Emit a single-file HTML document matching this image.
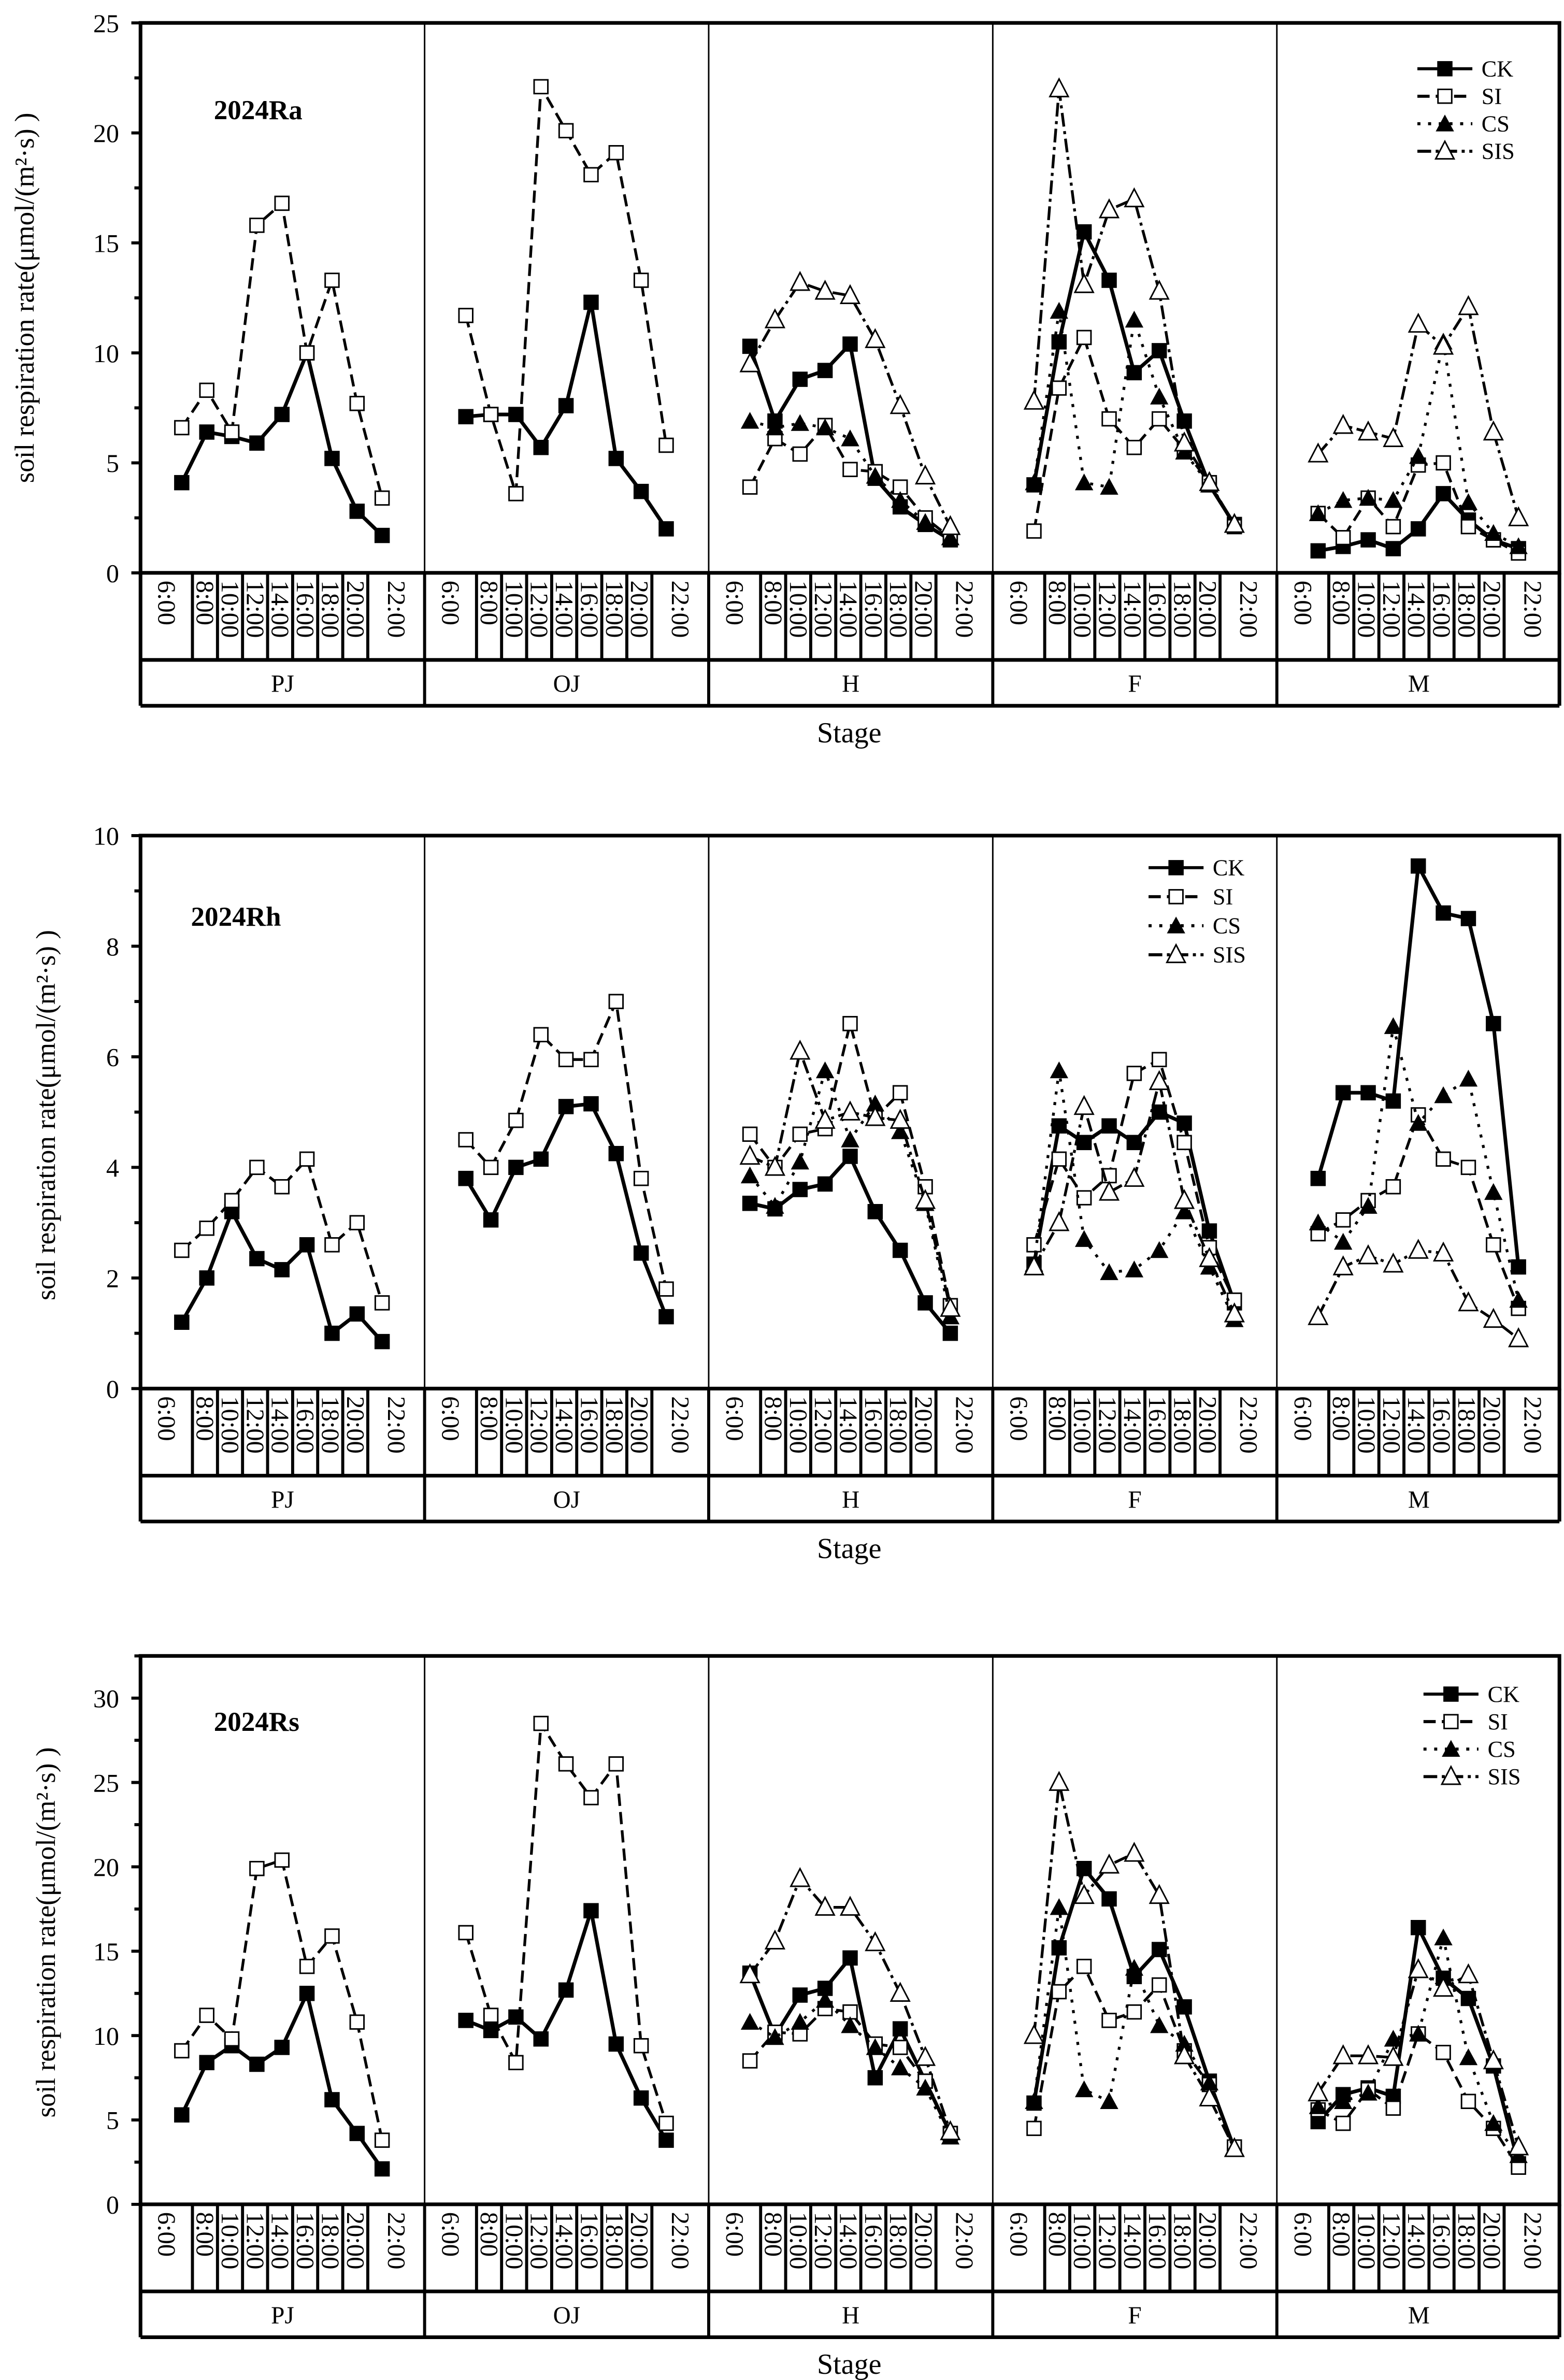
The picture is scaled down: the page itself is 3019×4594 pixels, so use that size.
<!DOCTYPE html>
<html><head><meta charset="utf-8"><style>
html,body{margin:0;padding:0;background:#fff;}
svg{display:block;}
text{font-family:"Liberation Serif","DejaVu Serif",serif;fill:#000;}
</style></head><body>
<svg id="chart" width="3019" height="4594" viewBox="0 0 1024 1558" preserveAspectRatio="none" xmlns="http://www.w3.org/2000/svg"></svg>
<script>
const stages = ["PJ","OJ","H","F","M"];
const times = ["6:00","8:00","10:00","12:00","14:00","16:00","18:00","20:00","22:00"];
const seriesNames = ["CK","SI","CS","SIS"];
// Ra
const raCK = [[4.1,6.4,6.2,5.9,7.2,10.0,5.2,2.8,1.7],[7.1,7.2,7.2,5.7,7.6,12.3,5.2,3.7,2.0],[10.3,6.9,8.8,9.2,10.4,4.3,3.0,2.2,1.5],[4.0,10.5,15.5,13.3,9.1,10.1,6.9,4.0,2.2],[1.0,1.2,1.5,1.1,2.0,3.6,2.4,1.5,1.1]];
const raSI = [[6.6,8.3,6.4,15.8,16.8,10.0,13.3,7.7,3.4],[11.7,7.2,3.6,22.1,20.1,18.1,19.1,13.3,5.8],[3.9,6.1,5.4,6.7,4.7,4.6,3.9,2.5,1.6],[1.9,8.4,10.7,7.0,5.7,7.0,5.6,4.1,2.1],[2.7,1.6,3.4,2.1,4.9,5.0,2.1,1.5,0.9]];
const raCS = [null,null,[6.9,6.6,6.8,6.6,6.1,4.4,3.3,2.3,1.6],[4.1,11.9,4.1,3.9,11.5,8.0,5.5,4.0,2.2],[2.7,3.3,3.4,3.3,5.3,10.5,3.2,1.8,1.2]];
const raSIS = [null,null,[9.5,11.5,13.2,12.8,12.6,10.6,7.6,4.4,2.1],[7.8,22.0,13.1,16.5,17.0,12.8,5.9,4.1,2.2],[5.4,6.7,6.4,6.1,11.3,10.3,12.1,6.4,2.5]];
// Rh
const rhCK = [[1.2,2.0,3.2,2.35,2.15,2.6,1.0,1.35,0.85],[3.8,3.05,4.0,4.15,5.1,5.15,4.25,2.45,1.3],[3.35,3.25,3.6,3.7,4.2,3.2,2.5,1.55,1.0],[2.25,4.75,4.45,4.75,4.45,5.0,4.8,2.85,1.55],[3.8,5.35,5.35,5.2,9.45,8.6,8.5,6.6,2.2]];
const rhSI = [[2.5,2.9,3.4,4.0,3.65,4.15,2.6,3.0,1.55],[4.5,4.0,4.85,6.4,5.95,5.95,7.0,3.8,1.8],[4.6,4.0,4.6,4.7,6.6,4.9,5.35,3.65,1.5],[2.6,4.15,3.45,3.85,5.7,5.95,4.45,2.55,1.6],[2.8,3.05,3.4,3.65,4.95,4.15,4.0,2.6,1.45]];
const rhCS = [null,null,[3.85,3.3,4.1,5.75,4.5,5.15,4.65,3.35,1.3],[2.25,5.75,2.7,2.1,2.15,2.5,3.2,2.2,1.25],[3.0,2.65,3.3,6.55,4.8,5.3,5.6,3.55,1.6]];
const rhSIS = [null,null,[4.2,4.0,6.1,4.85,5.0,4.9,4.85,3.4,1.45],[2.2,3.0,5.1,3.55,3.8,5.55,3.4,2.35,1.35],[1.3,2.2,2.4,2.25,2.5,2.45,1.55,1.25,0.9]];
// Rs
const rsCK = [[5.3,8.4,9.4,8.3,9.3,12.5,6.2,4.2,2.1],[10.9,10.3,11.1,9.8,12.7,17.4,9.5,6.3,3.8],[13.7,10.0,12.4,12.8,14.6,7.5,10.4,7.3,4.2],[6.0,15.2,19.9,18.1,13.5,15.1,11.7,7.3,3.3],[4.9,6.5,6.9,6.4,16.4,13.4,12.2,8.2,2.4]];
const rsSI = [[9.1,11.2,9.8,19.9,20.4,14.1,15.9,10.8,3.8],[16.1,11.2,8.4,28.5,26.1,24.1,26.1,9.4,4.8],[8.5,10.2,10.1,11.6,11.4,9.5,9.3,7.3,4.2],[4.5,12.6,14.1,10.9,11.4,13.0,9.1,7.1,3.4],[5.6,4.8,6.8,5.7,10.1,9.0,6.1,4.5,2.2]];
const rsCS = [null,null,[10.8,9.9,10.8,12.1,10.6,9.3,8.1,6.9,4.0],[6.1,17.6,6.8,6.1,14.0,10.6,9.5,7.2,3.3],[5.8,6.1,6.6,9.8,10.1,15.8,8.7,4.8,2.9]];
const rsSIS = [null,null,[13.6,15.6,19.3,17.6,17.6,15.5,12.5,8.7,4.3],[10.0,25.0,18.3,20.1,20.8,18.3,8.8,6.3,3.3],[6.6,8.8,8.8,8.7,13.9,12.8,13.6,8.5,3.4]];
const raTicks = [0,5,10,15,20,25];
const rhTicks = [0,2,4,6,8,10];
const rsTicks = [0,5,10,15,20,25,30];

const NS="http://www.w3.org/2000/svg";
const svg=document.getElementById('chart');
function el(tag,attrs,parent){const e=document.createElementNS(NS,tag);for(const k in attrs)e.setAttribute(k,attrs[k]);(parent||svg).appendChild(e);return e;}

const panels=[
 {id:'ra',title:'2024Ra',top:15,bottom:375,max:25,ticks:raTicks,minor:2.5,data:[raCK,raSI,raCS,raSIS],tx:140,ty:78,leg:{x:928,y:45,dy:18},yl:{x:22,y:195}},
 {id:'rh',title:'2024Rh',top:547,bottom:909,max:10,ticks:rhTicks,minor:1,data:[rhCK,rhSI,rhCS,rhSIS],tx:125,ty:606,leg:{x:752,y:568,dy:19},yl:{x:36,y:730}},
 {id:'rs',title:'2024Rs',top:1084,bottom:1443,max:32.5,ticks:rsTicks,minor:2.5,data:[rsCK,rsSI,rsCS,rsSIS],tx:140,ty:1133,leg:{x:932,y:1109,dy:18},yl:{x:36,y:1265}}
];
const L=92,R=1021,SW=186;
const dashes=["none","8,4","2,5","9,3,2,3"];
function xPos(s,i){return L+SW*s+27+16.4*i;}

function marker(g,k,x,y){
  let m;
  if(k===0) m=el('rect',{x:x-5,y:y-5,width:10,height:10,fill:'#000'},g);
  else if(k===1) m=el('rect',{x:x-4.5,y:y-4.5,width:9,height:9,fill:'#fff',stroke:'#000','stroke-width':1},g);
  else if(k===2) m=el('polygon',{points:`${x},${y-6} ${x+6},${y+5} ${x-6},${y+5}`,fill:'#000'},g);
  else m=el('polygon',{points:`${x},${y-6.5} ${x+6},${y+5} ${x-6},${y+5}`,fill:'#fff',stroke:'#000','stroke-width':1},g);
  return m;
}

panels.forEach((p,pi)=>{
  const g=el('g',{});
  
  
  const yS=v=>p.bottom-(v/p.max)*(p.bottom-p.top);
  for(let s=1;s<5;s++){const l=el('line',{x1:L+SW*s,x2:L+SW*s,y1:p.top,y2:p.bottom,stroke:'#000','stroke-width':1},g);}
  const fr=el('rect',{x:L,y:p.top,width:R-L,height:p.bottom-p.top,fill:'none',stroke:'#000','stroke-width':2.4},g);
  
  for(let v=0;v<=p.max+1e-6;v+=p.minor){const y=yS(v);el('line',{x1:L-(p.ticks.includes(v)?6:4),x2:L,y1:y,y2:y,stroke:'#000','stroke-width':2},g);}
  p.ticks.forEach(v=>{const t=el('text',{x:L-14,y:yS(v)+6,'text-anchor':'end','font-size':17},g);t.textContent=v;
    });
  const yl=el('text',{x:p.yl.x,y:p.yl.y,'text-anchor':'middle','font-size':18,transform:`rotate(-90 ${p.yl.x} ${p.yl.y})`},g);
  yl.textContent='soil respiration rate(μmol/(m²·s) )';
  
  const tt=el('text',{x:p.tx,y:p.ty,'font-size':18,'font-weight':'bold'},g);tt.textContent=p.title;
  
  const b1=p.bottom+57,b2=b1+30;
  el('line',{x1:L,x2:R,y1:b1,y2:b1,stroke:'#000','stroke-width':2.4},g);
  el('line',{x1:L,x2:R,y1:b2,y2:b2,stroke:'#000','stroke-width':2.4},g);
  el('line',{x1:L,x2:L,y1:p.bottom,y2:b2,stroke:'#000','stroke-width':2.4},g);
  el('line',{x1:R,x2:R,y1:p.bottom,y2:b2,stroke:'#000','stroke-width':2.4},g);
  for(let s=0;s<5;s++){
    const s0=L+SW*s;
    if(s>0) el('line',{x1:s0,x2:s0,y1:p.bottom,y2:b2,stroke:'#000','stroke-width':2},g);
    const divs=[s0];for(let k=0;k<8;k++){const dx=s0+34+16.4*k;divs.push(dx);el('line',{x1:dx,x2:dx,y1:p.bottom,y2:b1,stroke:'#000','stroke-width':2},g);}
    divs.push(s0+SW);
    times.forEach((tm,i)=>{const cx=(divs[i]+divs[i+1])/2,cy=p.bottom+5;
      const t=el('text',{x:cx,y:cy,'font-size':16.5,transform:`rotate(90 ${cx} ${cy})`,'dominant-baseline':'central'},g);t.textContent=tm;
      });
    const st=el('text',{x:s0+SW/2,y:b1+21,'text-anchor':'middle','font-size':16},g);st.textContent=stages[s];
    
  }
  const xl=el('text',{x:556,y:b2+24,'text-anchor':'middle','font-size':19},g);xl.textContent='Stage';
  
  p.data.forEach((ser,k)=>{
    ser.forEach((vals,s)=>{
      if(!vals)return;
      const pts=vals.map((v,i)=>xPos(s,i)+','+yS(v)).join(' ');
      const pl=el('polyline',{points:pts,fill:'none',stroke:'#000','stroke-width':k===0?2.4:1.8,'stroke-dasharray':dashes[k]},g);
      
      
      vals.forEach((v,i)=>{const m=marker(g,k,xPos(s,i),yS(v));
        
        });
    });
  });
  seriesNames.forEach((n,k)=>{
    const y=p.leg.y+k*p.leg.dy,x=p.leg.x;
    const lg=el('g',{},g);
    
    
    el('line',{x1:x,x2:x+36,y1:y,y2:y,stroke:'#000','stroke-width':2,'stroke-dasharray':dashes[k]},lg);
    marker(lg,k,x+18,y);
    const t=el('text',{x:x+42,y:y+5,'font-size':15},lg);t.textContent=n;
  });
});
</script>
</body></html>
